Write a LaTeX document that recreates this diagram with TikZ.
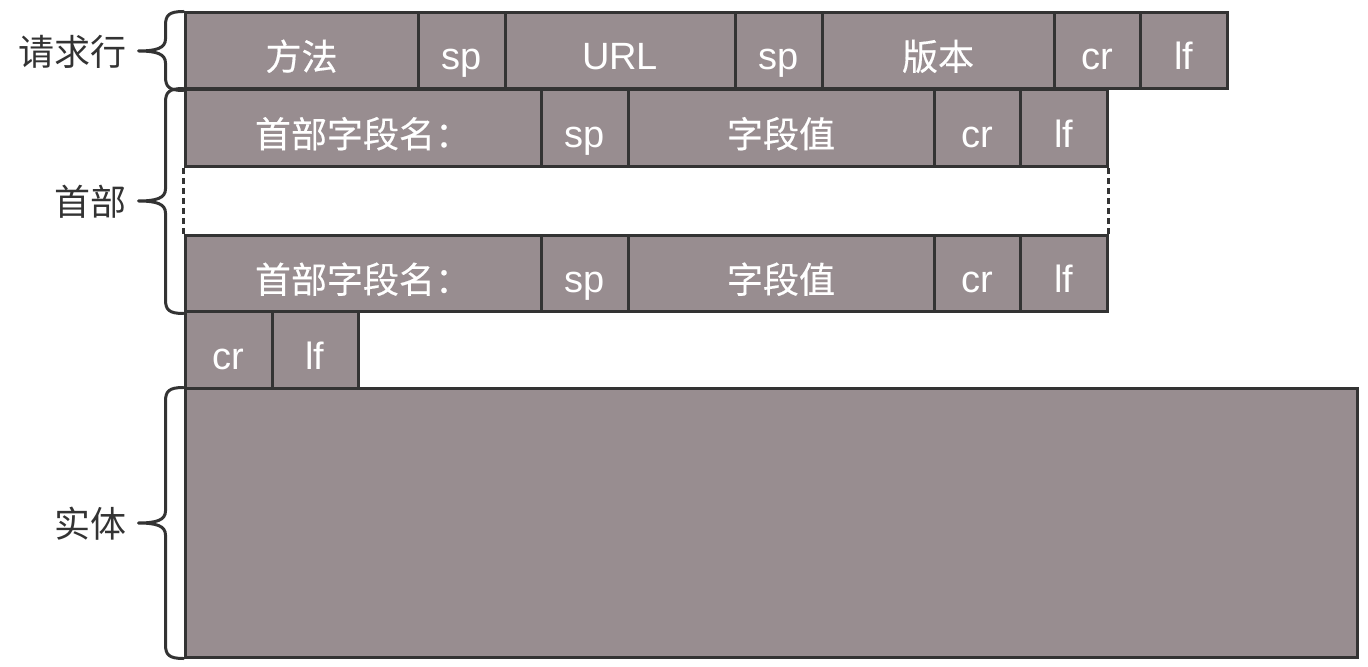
\documentclass[tikz,border=0pt]{standalone}
\usepackage{fontspec}
\setmainfont{Liberation Sans}
\newfontfamily\cjk{Noto Sans CJK SC}
\newfontfamily\cjkb[FakeBold=0.35]{Noto Sans CJK SC}
\usetikzlibrary{calc}
\definecolor{cellc}{HTML}{988D90}
\definecolor{linec}{HTML}{333333}
\newcommand\zh[1]{{\cjkb\fontsize{18pt}{20pt}\selectfont #1}}
\newcommand\zl[1]{{\cjk\fontsize{18pt}{20pt}\selectfont #1}}
\tikzset{
  cell/.style={draw=linec, fill=cellc, line width=1.5pt, text=white, inner sep=0pt,
    font=\fontsize{19pt}{22pt}\selectfont, text height=19pt, text depth=0pt, anchor=center},
  bracel/.style={draw=linec, line width=1.5pt, line cap=round, line join=round},
  dotline/.style={draw=linec, line width=1.5pt, dash pattern=on 3pt off 2pt},
  lab/.style={text=linec, inner sep=0pt, anchor=east}
}
\begin{document}
\begin{tikzpicture}[x=0.5pt, y=-0.5pt]
\useasboundingbox (0,0) rectangle (1368,667);
% row 1: request line
\begin{scope}[every node/.append style={minimum height=38pt}]
\node[cell, minimum width=116.5pt] (r1) at (301.5,51) {\zh{方法}};
\node[cell, minimum width=43.5pt] (r2) at (461.5,51) {sp};
\node[cell, minimum width=115pt] (r3) at (620,51) {URL};
\node[cell, minimum width=43.5pt] (r4) at (778.5,51) {sp};
\node[cell, minimum width=116pt] (r5) at (938,51) {\zh{版本}};
\node[cell, minimum width=43pt] (r6) at (1097,51) {cr};
\node[cell, minimum width=43.5pt] (r7) at (1183.5,51) {lf};
\end{scope}
% row 2: first header line
\begin{scope}[every node/.append style={minimum height=38.5pt}]
\node[cell, minimum width=178pt] (a1) at (363,128.5) {\zh{首部字段名：}};
\node[cell, minimum width=43.5pt] (a2) at (584.5,128.5) {sp};
\node[cell, minimum width=153pt] (a3) at (781,128.5) {\zh{字段值}};
\node[cell, minimum width=43pt] (a4) at (977,128.5) {cr};
\node[cell, minimum width=43.5pt] (a5) at (1063.5,128.5) {lf};
\end{scope}
% row 3: last header line
\begin{scope}[every node/.append style={minimum height=38pt}]
\node[cell, minimum width=178pt] (b1) at (363,274) {\zh{首部字段名：}};
\node[cell, minimum width=43.5pt] (b2) at (584.5,274) {sp};
\node[cell, minimum width=153pt] (b3) at (781,274) {\zh{字段值}};
\node[cell, minimum width=43pt] (b4) at (977,274) {cr};
\node[cell, minimum width=43.5pt] (b5) at (1063.5,274) {lf};
\end{scope}
% row 4: empty line
\begin{scope}[every node/.append style={minimum height=38.5pt}]
\node[cell, minimum width=43.5pt] (c1) at (228.5,350.5) {cr};
\node[cell, minimum width=43pt] (c2) at (315,350.5) {lf};
\end{scope}
% body
\node[cell, minimum width=586pt, minimum height=134pt] (body) at (771,523) {};
% dotted continuation
\draw[dotline] (a1.south west) -- (b1.north west);
\draw[dotline] (a5.south east) -- (b5.north east);
% braces
\coordinate (m1) at ($(r1.north west)!0.5!(r1.south west)$);
\coordinate (m2) at ($(a1.north west)!0.5!(b1.south west)$);
\coordinate (m3) at ($(body.north west)!0.5!(body.south west)$);
\draw[bracel] (r1.north west) .. controls +(-15,0) and +(0,-10) .. ++(-18,14)
  -- ([xshift=-9pt,yshift=6pt]m1) .. controls +(0,9) and +(18,0) .. ([xshift=-22.5pt]m1)
  .. controls +(18,0) and +(0,-9) .. ([xshift=-9pt,yshift=-6pt]m1)
  -- ([xshift=-9pt,yshift=7pt]r1.south west) .. controls +(0,10) and +(-15,0) .. (r1.south west);
\draw[bracel] (a1.north west) .. controls +(-15,0) and +(0,-10) .. ++(-18,14)
  -- ([xshift=-9pt,yshift=6pt]m2) .. controls +(0,9) and +(18,0) .. ([xshift=-22.5pt]m2)
  .. controls +(18,0) and +(0,-9) .. ([xshift=-9pt,yshift=-6pt]m2)
  -- ([xshift=-9pt,yshift=7pt]b1.south west) .. controls +(0,10) and +(-15,0) .. (b1.south west);
\draw[bracel] (body.north west) .. controls +(-15,0) and +(0,-10) .. ++(-18,14)
  -- ([xshift=-9pt,yshift=6pt]m3) .. controls +(0,9) and +(18,0) .. ([xshift=-22.5pt]m3)
  .. controls +(18,0) and +(0,-9) .. ([xshift=-9pt,yshift=-6pt]m3)
  -- ([xshift=-9pt,yshift=7pt]body.south west) .. controls +(0,10) and +(-15,0) .. (body.south west);
% labels
\node[lab] (l1) at ([xshift=-28.5pt,yshift=-0.5pt]m1) {\zl{请求行}};
\node[lab] (l2) at ([xshift=-28.5pt,yshift=-0.5pt]m2) {\zl{首部}};
\node[lab] (l3) at ([xshift=-28.5pt,yshift=-0.5pt]m3) {\zl{实体}};
\end{tikzpicture}
\end{document}
